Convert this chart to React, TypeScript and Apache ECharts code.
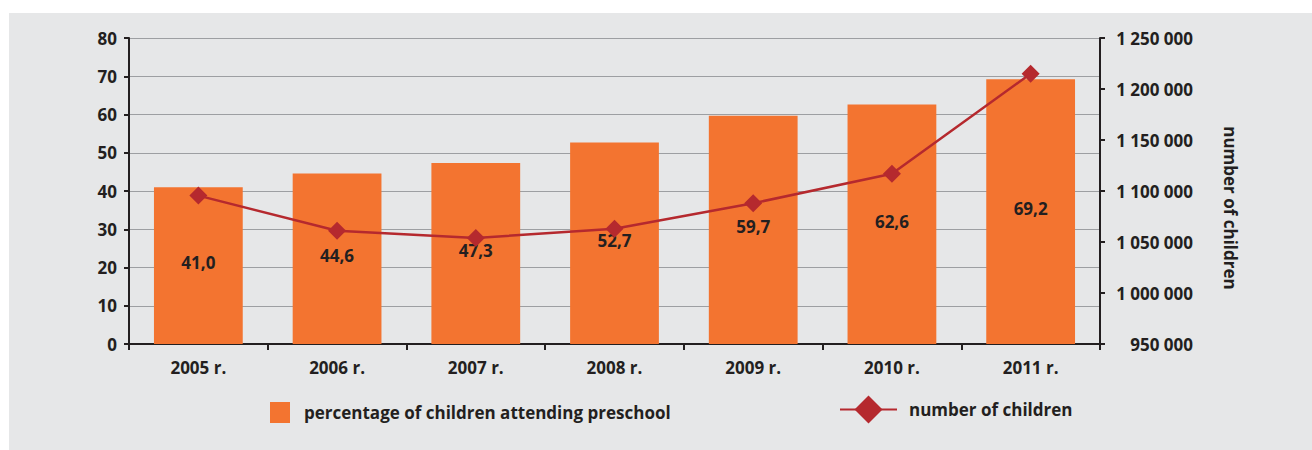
import React, { useEffect, useRef } from "react";
import * as echarts from "echarts";

// Years on the category axis
const categories = ["2005 r.", "2006 r.", "2007 r.", "2008 r.", "2009 r.", "2010 r.", "2011 r."];
// Share of children attending preschool, %
const attendanceShare = [41.0, 44.6, 47.3, 52.7, 59.7, 62.6, 69.2];
// Number of children (right axis)
const childrenCount = [1095500, 1061000, 1054000, 1063000, 1088000, 1117000, 1215000];

const shareName = "percentage of children attending preschool";
const countName = "number of children";

const FONT = "'Open Sans', 'Noto Sans', sans-serif";
const INK = "#231f20";
const BAR = "#f37430";
const LINE = "#b5292e";

const groupThousands = (v: number) =>
  String(v).replace(/\B(?=(\d{3})+(?!\d))/g, " ");

export default function App() {
  const ref = useRef<HTMLDivElement>(null);

  useEffect(() => {
    if (!ref.current) return;
    const chart = echarts.init(ref.current, undefined, { renderer: "svg" });
    const textBase = { fontFamily: FONT, fontSize: 17, fontWeight: 700, color: INK };

    chart.setOption({
      animation: false,
      backgroundColor: "#ffffff",
      graphic: [
        {
          type: "rect",
          left: 9,
          top: 13,
          z: -10,
          shape: { width: 1303, height: 437 },
          style: { fill: "#e6e7e8" },
          silent: true,
        },
        {
          // right axis title, reading top to bottom
          type: "text",
          x: 1230,
          y: 208,
          rotation: -Math.PI / 2,
          style: {
            text: countName,
            fontFamily: FONT,
            fontSize: 17,
            fontWeight: 700,
            fill: INK,
            align: "center",
            verticalAlign: "middle",
          },
        },
      ],
      grid: { left: 129, right: 212, top: 38, bottom: 106, containLabel: false },
      legend: [
        {
          left: 265,
          top: 397,
          itemWidth: 20,
          itemHeight: 21,
          icon: "rect",
          selectedMode: false,
          data: [shareName],
          textStyle: { ...textBase, padding: [0, 0, 0, 9] },
        },
        {
          left: 834,
          top: 390.5,
          itemWidth: 57,
          itemHeight: 35,
          selectedMode: false,
          data: [countName],
          textStyle: { ...textBase, padding: [0, 0, 0, 7] },
        },
      ],
      xAxis: {
        type: "category",
        data: categories,
        boundaryGap: true,
        axisLine: { show: true, lineStyle: { color: INK, width: 2 } },
        axisTick: { show: true, alignWithLabel: false, length: 6, lineStyle: { color: INK, width: 2 } },
        axisLabel: { ...textBase, margin: 15 },
        splitLine: { show: false },
      },
      yAxis: [
        {
          type: "value",
          min: 0,
          max: 80,
          interval: 10,
          axisLine: { show: true, lineStyle: { color: INK, width: 2 } },
          axisTick: { show: true, length: 5, lineStyle: { color: INK, width: 2 } },
          axisLabel: { ...textBase, margin: 12 },
          splitLine: { show: true, lineStyle: { color: "#9d9fa2", width: 1 } },
        },
        {
          type: "value",
          position: "right",
          min: 950000,
          max: 1250000,
          interval: 50000,
          axisLine: { show: true, lineStyle: { color: INK, width: 2 } },
          axisTick: { show: true, length: 5, lineStyle: { color: INK, width: 2 } },
          axisLabel: {
            ...textBase,
            align: "right",
            margin: 93,
            formatter: (v: number) => groupThousands(v),
          },
          splitLine: { show: false },
        },
      ],
      series: [
        {
          name: shareName,
          type: "bar",
          data: attendanceShare,
          barWidth: "64%",
          itemStyle: { color: BAR },
          label: {
            show: true,
            position: "inside",
            offset: [0, -3],
            ...textBase,
            formatter: (p: any) => Number(p.value).toFixed(1).replace(".", ","),
          },
          z: 2,
        },
        {
          name: countName,
          type: "line",
          yAxisIndex: 1,
          data: childrenCount,
          symbol: "diamond",
          symbolSize: 18,
          itemStyle: { color: LINE },
          lineStyle: { color: LINE, width: 2.5 },
          z: 3,
        },
      ],
    });

    return () => chart.dispose();
  }, []);

  return (
    <div
      ref={ref}
      style={{ position: "absolute", left: 0, top: 0, width: 1312, height: 450 }}
    />
  );
}
